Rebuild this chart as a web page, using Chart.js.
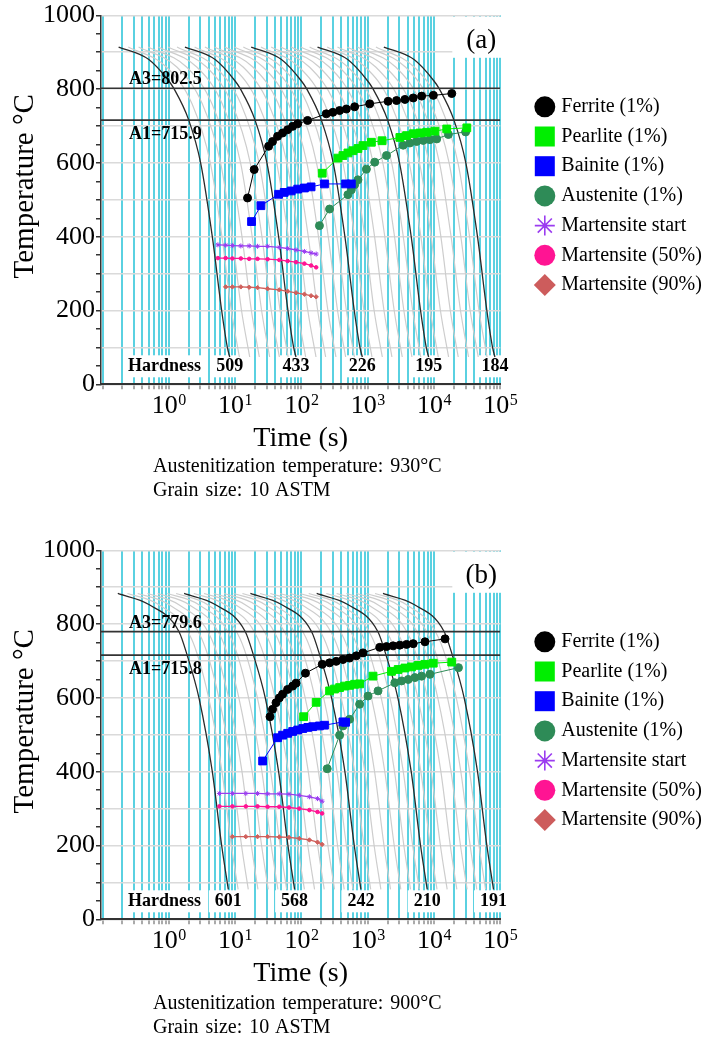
<!DOCTYPE html>
<html>
<head>
<meta charset="utf-8">
<script src="https://cdn.jsdelivr.net/npm/chart.js@4.4.0/dist/chart.umd.min.js"></script>
<style>
html,body{margin:0;padding:0;background:#fff;}
#wrap{position:relative;width:709px;height:1038px;overflow:hidden;}
canvas{position:absolute;left:0;}
.cap{position:absolute;left:153px;font-family:'Liberation Serif','Times New Roman',serif;font-size:20px;line-height:24px;color:#000;white-space:nowrap;word-spacing:2px;}
</style>
</head>
<body>
<div id="wrap">
<canvas id="chartA" width="709" height="503" style="top:0px"></canvas>
<canvas id="chartB" width="709" height="503" style="top:535px"></canvas>
<div class="cap" style="top:453px">Austenitization temperature: 930°C<br>Grain size: 10 ASTM</div>
<div class="cap" style="top:990px">Austenitization temperature: 900°C<br>Grain size: 10 ASTM</div>
</div>
<script>
// ---------- shared axis data ----------
const xMin = 0.0949, xMax = 100000;
const xTickExponents = [0, 1, 2, 3, 4, 5];
const yTickLabels = [0, 200, 400, 600, 800, 1000];
const legendLabels = ['Ferrite (1%)', 'Pearlite (1%)', 'Bainite (1%)', 'Austenite (1%)',
  'Martensite start', 'Martensite (50%)', 'Martensite (90%)'];

// ---------- panel (a) ----------
const panelA = '(a)';
const a3A = 802.5, a1A = 715.9;
const hardnessA = [509, 433, 226, 195, 184];
const blackTempsA = [914, 880, 822, 802, 716, 600, 400, 200, 100, 74];
const blackTimesA = [
  [0.175, 0.5, 1, 1.19, 2, 3.02, 4.53, 6.27, 7.64, 8.3],
  [1.75, 5, 10, 11.9, 20, 30.2, 45.3, 62.7, 76.4, 83],
  [17.5, 50, 100, 119, 200, 302, 453, 627, 764, 830],
  [175, 500, 1000, 1190, 2000, 3020, 4530, 6270, 7640, 8300],
  [1750, 5000, 10000, 11900, 20000, 30200, 45300, 62700, 76400, 83000]
];
const grayTempsA = [914, 860, 760, 600, 400, 200, 74];
const grayTimesA = [
  [0.245, 0.92, 2.24, 4.23, 6.34, 8.78, 11.6],
  [0.35, 1.32, 3.2, 6.04, 9.06, 12.5, 16.6],
  [0.49, 1.85, 4.48, 8.46, 12.7, 17.6, 23.2],
  [0.7, 2.64, 6.4, 12.1, 18.1, 25.1, 33.2],
  [0.98, 3.7, 8.96, 16.9, 25.4, 35.1, 46.5],
  [1.33, 5.02, 12.2, 23, 34.4, 47.7, 63.1],
  [2.45, 9.2, 22.4, 42.3, 63.4, 87.8, 116],
  [3.5, 13.2, 32, 60.4, 90.6, 125, 166],
  [4.9, 18.5, 44.8, 84.6, 127, 176, 232],
  [7, 26.4, 64, 121, 181, 251, 332],
  [9.8, 37, 89.6, 169, 254, 351, 465],
  [13.3, 50.2, 122, 230, 344, 477, 631],
  [24.5, 92, 224, 423, 634, 878, 1160],
  [35, 132, 320, 604, 906, 1250, 1660],
  [49, 185, 448, 846, 1270, 1760, 2320],
  [70, 264, 640, 1210, 1810, 2510, 3320],
  [98, 370, 896, 1690, 2540, 3510, 4650],
  [133, 502, 1220, 2300, 3440, 4770, 6310],
  [245, 920, 2240, 4230, 6340, 8780, 11600],
  [350, 1320, 3200, 6040, 9060, 12500, 16600],
  [490, 1850, 4480, 8460, 12700, 17600, 23200],
  [700, 2640, 6400, 12100, 18100, 25100, 33200],
  [980, 3700, 8960, 16900, 25400, 35100, 46500],
  [1330, 5020, 12200, 23000, 34400, 47700, 63100]
];
const ferriteTimeA = [15.4, 19.4, 32, 36.7, 43.7, 52, 62, 73.8, 88, 124, 237, 298, 377, 476, 635, 1072, 2032, 2722, 3642, 4857, 6510, 9775, 18540];
const ferriteTempA = [505, 582, 645, 658, 672, 681, 690, 699, 706, 715, 733, 737, 742, 746, 752, 760, 767, 769, 772, 776, 781, 783, 788];
const pearliteTimeA = [206, 355, 423, 503, 599, 713, 849, 1137, 1647, 3054, 3855, 4857, 6136, 7750, 10357, 15560, 31270];
const pearliteTempA = [572, 613, 620, 627, 633, 639, 647, 656, 660, 669, 674, 679, 681, 683, 686, 692, 695];
const bainiteTimeA = [17.7, 24.5, 45.3, 55, 70, 88, 111, 140, 223, 464, 566];
const bainiteTempA = [441, 484, 515, 520, 524, 529, 532, 535, 543, 543, 543];
const austeniteTimeA = [187, 266, 503, 566, 635, 713, 955, 1276, 1920, 3428, 4326, 5470, 6880, 8690, 10990, 16480, 30000];
const austeniteTempA = [430, 475, 514, 527, 541, 554, 583, 602, 620, 648, 654, 658, 661, 663, 665, 677, 684];
const martTimeA = [5.5, 7.2, 9.1, 12.2, 16.3, 21.8, 30.9, 46.4, 62, 83, 111, 140, 167];
const msTempA = [378, 377, 376, 375, 375, 374, 374, 371, 368, 364, 360, 356, 353];
const m50TempA = [342, 342, 341, 341, 340, 340, 339, 337, 334, 331, 327, 322, 317];
const m90TempA = [263, 264, 264, 264, 263, 262, 259, 256, 252, 248, 244, 240, 237];

// ---------- panel (b) ----------
const panelB = '(b)';
const a3B = 779.6, a1B = 715.8;
const hardnessB = [601, 568, 242, 210, 191];
const blackTempsB = [883, 853, 780, 716, 600, 400, 200, 81];
const blackTimesB = [
  [0.17, 0.5, 1.42, 1.89, 2.85, 4.53, 6.27, 7.9],
  [1.7, 5, 14.2, 18.9, 28.5, 45.3, 62.7, 79],
  [17, 50, 142, 189, 285, 453, 627, 790],
  [170, 500, 1420, 1890, 2850, 4530, 6270, 7900],
  [1700, 5000, 14200, 18900, 28500, 45300, 62700, 79000]
];
const grayTempsB = [883, 853, 760, 600, 400, 200, 81];
const grayTimesB = [
  [0.238, 0.7, 2.2, 3.99, 6.34, 8.78, 11.1],
  [0.34, 1.0, 3.14, 5.7, 9.06, 12.5, 15.8],
  [0.476, 1.4, 4.4, 7.98, 12.7, 17.6, 22.1],
  [0.68, 2.0, 6.28, 11.4, 18.1, 25.1, 31.6],
  [0.95, 2.8, 8.8, 16, 25.4, 35.1, 44.2],
  [1.29, 3.8, 11.9, 21.7, 34.4, 47.7, 60],
  [2.38, 7, 22, 39.9, 63.4, 87.8, 111],
  [3.4, 10, 31.4, 57, 90.6, 125, 158],
  [4.76, 14, 44, 79.8, 127, 176, 221],
  [6.8, 20, 62.8, 114, 181, 251, 316],
  [9.5, 28, 88, 160, 254, 351, 442],
  [12.9, 38, 119, 217, 344, 477, 600],
  [23.8, 70, 220, 399, 634, 878, 1110],
  [34, 100, 314, 570, 906, 1250, 1580],
  [47.6, 140, 440, 798, 1270, 1760, 2210],
  [68, 200, 628, 1140, 1810, 2510, 3160],
  [95, 280, 880, 1600, 2540, 3510, 4420],
  [129, 380, 1190, 2170, 3440, 4770, 6000],
  [238, 700, 2200, 3990, 6340, 8780, 11100],
  [340, 1000, 3140, 5700, 9060, 12500, 15800],
  [476, 1400, 4400, 7980, 12700, 17600, 22100],
  [680, 2000, 6280, 11400, 18100, 25100, 31600],
  [950, 2800, 8800, 16000, 25400, 35100, 44200],
  [1290, 3800, 11900, 21700, 34400, 47700, 60000]
];
const ferriteTimeB = [33.6, 36.7, 41.4, 46.4, 52, 62, 73.8, 83, 115, 206, 266, 335, 423, 533, 673, 849, 1520, 1920, 2416, 3054, 3855, 4857, 7310, 14680];
const ferriteTempB = [549, 569, 587, 600, 610, 623, 632, 640, 667, 691, 695, 699, 704, 708, 714, 722, 737, 739, 741, 743, 745, 747, 752, 760];
const pearliteTimeB = [108, 167, 266, 316, 377, 449, 533, 635, 756, 1203, 2286, 2877, 3642, 4592, 5780, 7310, 9750, 18540];
const pearliteTempB = [549, 588, 619, 624, 628, 632, 634, 637, 638, 659, 672, 677, 681, 684, 688, 691, 694, 697];
const bainiteTimeB = [26, 43.7, 52, 62, 73.8, 88, 105, 125, 148, 187, 223, 423, 464];
const bainiteTempB = [429, 492, 499, 504, 509, 513, 517, 520, 522, 524, 526, 535, 534];
const austeniteTimeB = [245, 377, 423, 533, 756, 1012, 1432, 2564, 3236, 4083, 5155, 6500, 8690, 23370];
const austeniteTempB = [408, 499, 524, 542, 583, 605, 619, 641, 646, 650, 655, 659, 664, 682];
const martTimeB = [5.8, 9.1, 14.5, 21.8, 30.9, 46.4, 65, 93, 132, 175, 205];
const msTempB = [341, 341, 341, 341, 340, 340, 339, 336, 332, 327, 320];
const m50TempB = [306, 306, 306, 306, 305, 305, 303, 300, 296, 291, 287];
const m90TempB = [224, 224, 224, 224, 224, 223, 222, 219, 215, 209, 203];

// ---------- helpers ----------
const SERIF = '"Liberation Serif", "Times New Roman", serif';
const CYAN = '#5ad1e1';
function pts(ts, Ts) { return ts.map((t, i) => ({ x: t, y: Ts[i] })); }

function drawMarker(ctx, style, x, y, r, color) {
  ctx.save();
  ctx.fillStyle = color; ctx.strokeStyle = color; ctx.lineWidth = 1.6;
  ctx.beginPath();
  if (style === 'circle') { ctx.arc(x, y, r, 0, Math.PI * 2); ctx.fill(); }
  else if (style === 'rect') { ctx.fillRect(x - r, y - r, 2 * r, 2 * r); }
  else if (style === 'rectRot') { ctx.moveTo(x - r, y); ctx.lineTo(x, y - r); ctx.lineTo(x + r, y); ctx.lineTo(x, y + r); ctx.closePath(); ctx.fill(); }
  else if (style === 'star') {
    for (let k = 0; k < 4; k++) {
      const a = k * Math.PI / 4;
      ctx.moveTo(x - r * Math.cos(a), y - r * Math.sin(a));
      ctx.lineTo(x + r * Math.cos(a), y + r * Math.sin(a));
    }
    ctx.stroke();
    ctx.beginPath(); ctx.arc(x, y, 2.2, 0, Math.PI * 2); ctx.fill();
  }
  ctx.restore();
}

const cctPlugin = {
  id: 'cct',
  beforeDatasetsDraw(chart, args, o) {
    const { ctx, chartArea: ca, scales: { x } } = chart;
    ctx.save();
    ctx.fillStyle = '#fff';
    ctx.fillRect(ca.right - 48, ca.top + 1.5, 52, 41);
    ctx.font = 'bold 18px ' + SERIF;
    const hw = ctx.measureText('Hardness').width;
    ctx.fillRect(ca.left + 24, ca.bottom - 29, hw + 8, 22);
    o.hardness.forEach((h, i) => {
      const px = x.getPixelForValue(o.hardnessAt[i]);
      const w = ctx.measureText(String(h)).width;
      ctx.fillRect(px - w / 2 - 6, ca.bottom - 29, w + 12, 22);
    });
    ctx.restore();
  },
  afterDatasetsDraw(chart, args, o) {
    const { ctx, chartArea: ca, scales: { x, y } } = chart;
    ctx.save();
    ctx.fillStyle = '#000';
    ctx.textAlign = 'left'; ctx.textBaseline = 'alphabetic';
    ctx.font = 'bold 18px ' + SERIF;
    ctx.fillText('A3=' + o.a3, ca.left + 28, y.getPixelForValue(o.a3) - 4);
    ctx.fillText('A1=' + o.a1, ca.left + 28, y.getPixelForValue(o.a1) + 19);
    ctx.fillText('Hardness', ca.left + 27, ca.bottom - 13.5);
    ctx.textAlign = 'center';
    o.hardness.forEach((h, i) => {
      ctx.fillText(String(h), x.getPixelForValue(o.hardnessAt[i]), ca.bottom - 13.5);
    });
    ctx.font = '27px ' + SERIF;
    ctx.textBaseline = 'middle';
    ctx.fillText(o.panel, ca.right - 19, ca.top + 26);
    ctx.restore();
  },
  afterDraw(chart, args, o) {
    const { ctx, chartArea: ca, scales: { x } } = chart;
    ctx.save();
    ctx.fillStyle = '#000';
    // x tick labels 10^n
    xTickExponents.forEach(n => {
      const px = x.getPixelForValue(Math.pow(10, n));
      ctx.font = '26px ' + SERIF;
      const w1 = ctx.measureText('10').width;
      ctx.font = '16px ' + SERIF;
      const w2 = ctx.measureText(String(n)).width;
      const start = px - (w1 + w2) / 2;
      ctx.textAlign = 'left'; ctx.textBaseline = 'alphabetic';
      ctx.font = '26px ' + SERIF;
      ctx.fillText('10', start, ca.bottom + 29);
      ctx.font = '16px ' + SERIF;
      ctx.fillText(String(n), start + w1 + 0.5, ca.bottom + 20.5);
    });
    // axis titles
    ctx.font = '28px ' + SERIF;
    ctx.textAlign = 'center';
    ctx.fillText('Time (s)', (ca.left + ca.right) / 2, ca.bottom + 62);
    ctx.save();
    ctx.translate(33, ca.top + 171);
    ctx.rotate(-Math.PI / 2);
    ctx.font = '29px ' + SERIF;
    ctx.fillText('Temperature °C', 0, 0);
    ctx.restore();
    // legend
    ctx.font = '20px ' + SERIF;
    ctx.textAlign = 'left'; ctx.textBaseline = 'middle';
    chart.data.datasets.forEach((ds, i) => {
      if (!ds.legend) return;
      const ly = ca.top + 91.5 + i * 29.7;
      drawMarker(ctx, ds.legend.style, ca.right + 44.5, ly, ds.legend.r, ds.legend.color);
      ctx.fillStyle = '#000';
      ctx.fillText(ds.label, ca.right + 61, ly);
    });
    ctx.restore();
  }
};

function phaseDS(label, ts, Ts, color, style, r, lw, legend) {
  return {
    label, data: pts(ts, Ts), borderColor: color, backgroundColor: color,
    borderWidth: lw, pointStyle: style, pointRadius: r, pointBorderWidth: 1,
    pointBorderColor: color, pointBackgroundColor: color, tension: 0, fill: false,
    legend
  };
}

function buildChart(id, d) {
  const datasets = [
    phaseDS(legendLabels[0], d.ferriteTime, d.ferriteTemp, '#000000', 'circle', 4, 1, { style: 'circle', r: 10.5, color: '#000000' }),
    phaseDS(legendLabels[1], d.pearliteTime, d.pearliteTemp, '#00ee00', 'rect', 5.5, 1, { style: 'rect', r: 10, color: '#00ee00' }),
    phaseDS(legendLabels[2], d.bainiteTime, d.bainiteTemp, '#0000ff', 'rect', 5.5, 1, { style: 'rect', r: 10, color: '#0000ff' }),
    phaseDS(legendLabels[3], d.austeniteTime, d.austeniteTemp, '#2e8b57', 'circle', 4, 1, { style: 'circle', r: 10.5, color: '#2e8b57' }),
    phaseDS(legendLabels[4], d.martTime, d.msTemp, '#9b3cf0', 'star', 2.5, 1.3, { style: 'star', r: 10, color: '#9b3cf0' }),
    phaseDS(legendLabels[5], d.martTime, d.m50Temp, '#ff1493', 'circle', 1.8, 1.3, { style: 'circle', r: 10.5, color: '#ff1493' }),
    phaseDS(legendLabels[6], d.martTime.slice(1), d.m90Temp.slice(1), '#d0605c', 'rectRot', 2.2, 1.3, { style: 'rectRot', r: 11, color: '#cd5c5c' }),
    { label: 'A3', data: [{ x: xMin, y: d.a3 }, { x: xMax, y: d.a3 }], borderColor: '#333', borderWidth: 1.6, pointRadius: 0 },
    { label: 'A1', data: [{ x: xMin, y: d.a1 }, { x: xMax, y: d.a1 }], borderColor: '#333', borderWidth: 1.6, pointRadius: 0 }
  ];
  d.blackTimes.forEach((ts, i) => datasets.push({
    label: 'cool' + i, data: pts(ts, d.blackTemps), borderColor: '#2a2a2a', borderWidth: 1.3,
    pointRadius: 0, cubicInterpolationMode: 'monotone'
  }));
  d.grayTimes.forEach((ts, i) => datasets.push({
    label: 'gray' + i, data: pts(ts, d.grayTemps), borderColor: '#cdcdcd', borderWidth: 1.2,
    pointRadius: 0, cubicInterpolationMode: 'monotone'
  }));

  const xGrid = [];
  for (let e = -1; e <= 4; e++) for (let m = 1; m <= 9; m++) xGrid.push(m * Math.pow(10, e));
  xGrid.push(100000);
  const yGrid = [];
  for (let v = 0; v <= 1000; v += 50) yGrid.push(v);

  return new Chart(document.getElementById(id), {
    type: 'line',
    data: { datasets },
    plugins: [cctPlugin],
    options: {
      responsive: false, animation: false, devicePixelRatio: 1, events: [],
      layout: { padding: { left: 0, top: 15.3, right: 208.7, bottom: 58.7 } },
      plugins: {
        legend: { display: false }, tooltip: { enabled: false }, title: { display: false },
        cct: {
          a3: d.a3, a1: d.a1, panel: d.panel, hardness: d.hardness,
          hardnessAt: d.blackTimes.map(ts => ts[ts.length - 1])
        }
      },
      scales: {
        x: {
          type: 'logarithmic', min: xMin, max: xMax,
          afterBuildTicks: s => { s.ticks = xGrid.map(v => ({ value: v })); },
          afterFit: s => { s.height = 60; },
          ticks: { autoSkip: false, maxRotation: 0, callback: () => '', font: { size: 2 } },
          grid: { color: CYAN, lineWidth: 2, drawTicks: true, tickLength: 5, tickColor: '#aaaaaa' },
          border: { display: true, color: '#333', width: 2 }
        },
        y: {
          type: 'linear', min: 0, max: 1000,
          afterBuildTicks: s => { s.ticks = yGrid.map(v => ({ value: v })); },
          afterFit: s => { s.width = 101; },
          ticks: {
            autoSkip: false, padding: 1, color: '#000',
            font: { family: SERIF, size: 26, lineHeight: 1 },
            callback: v => yTickLabels.includes(v) ? String(v) : ''
          },
          grid: {
            color: c => (c.tick && c.tick.value % 100 === 0) ? '#dadada' : 'rgba(0,0,0,0)',
            lineWidth: 1.5, drawTicks: true, tickLength: 5, tickColor: '#333'
          },
          border: { display: true, color: '#333', width: 1.5 }
        }
      }
    }
  });
}

buildChart('chartA', {
  panel: panelA, a3: a3A, a1: a1A, hardness: hardnessA,
  blackTemps: blackTempsA, blackTimes: blackTimesA, grayTemps: grayTempsA, grayTimes: grayTimesA,
  ferriteTime: ferriteTimeA, ferriteTemp: ferriteTempA, pearliteTime: pearliteTimeA, pearliteTemp: pearliteTempA,
  bainiteTime: bainiteTimeA, bainiteTemp: bainiteTempA, austeniteTime: austeniteTimeA, austeniteTemp: austeniteTempA,
  martTime: martTimeA, msTemp: msTempA, m50Temp: m50TempA, m90Temp: m90TempA
});
buildChart('chartB', {
  panel: panelB, a3: a3B, a1: a1B, hardness: hardnessB,
  blackTemps: blackTempsB, blackTimes: blackTimesB, grayTemps: grayTempsB, grayTimes: grayTimesB,
  ferriteTime: ferriteTimeB, ferriteTemp: ferriteTempB, pearliteTime: pearliteTimeB, pearliteTemp: pearliteTempB,
  bainiteTime: bainiteTimeB, bainiteTemp: bainiteTempB, austeniteTime: austeniteTimeB, austeniteTemp: austeniteTempB,
  martTime: martTimeB, msTemp: msTempB, m50Temp: m50TempB, m90Temp: m90TempB
});
</script>
</body>
</html>
